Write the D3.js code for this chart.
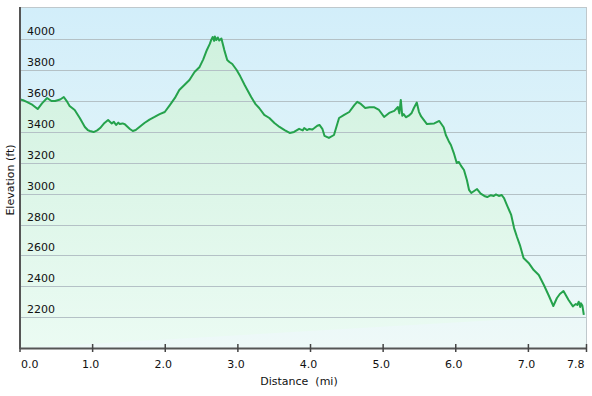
<!DOCTYPE html>
<html><head><meta charset="utf-8">
<script src="https://cdn.jsdelivr.net/npm/d3@7"></script>
<style>html,body{margin:0;padding:0;background:#fff;}svg{display:block;}</style>
</head><body><svg id="c" width="592" height="396"></svg>
<script>
const distance = [0.00,0.05,0.10,0.18,0.25,0.31,0.38,0.44,0.49,0.56,0.61,0.65,0.69,0.76,0.83,0.90,0.94,0.97,1.02,1.07,1.11,1.17,1.22,1.27,1.30,1.33,1.36,1.38,1.42,1.45,1.52,1.56,1.60,1.66,1.72,1.79,1.86,1.93,2.00,2.07,2.14,2.20,2.27,2.34,2.41,2.48,2.53,2.58,2.62,2.64,2.66,2.68,2.69,2.71,2.73,2.75,2.78,2.82,2.86,2.89,2.93,2.99,3.04,3.10,3.19,3.25,3.30,3.37,3.44,3.51,3.58,3.65,3.72,3.78,3.85,3.90,3.92,3.96,3.99,4.03,4.06,4.10,4.13,4.17,4.20,4.26,4.33,4.40,4.47,4.54,4.61,4.65,4.70,4.76,4.82,4.88,4.95,5.02,5.09,5.16,5.21,5.23,5.25,5.27,5.29,5.32,5.36,5.40,5.43,5.47,5.50,5.53,5.61,5.71,5.78,5.84,5.87,5.91,5.94,5.98,6.02,6.05,6.08,6.12,6.16,6.19,6.22,6.30,6.35,6.40,6.44,6.49,6.53,6.56,6.60,6.64,6.67,6.71,6.77,6.81,6.85,6.89,6.94,7.01,7.08,7.15,7.22,7.29,7.35,7.40,7.44,7.49,7.56,7.62,7.66,7.68,7.70,7.72,7.73,7.75,7.77,7.79,7.80];
const elevation = [3611,3605,3595,3575,3548,3585,3620,3600,3600,3610,3626,3600,3568,3542,3490,3432,3412,3406,3399,3410,3425,3458,3477,3455,3465,3445,3460,3451,3455,3450,3419,3406,3412,3435,3458,3480,3497,3515,3529,3574,3620,3672,3704,3736,3788,3821,3870,3931,3970,3996,4015,3990,4018,3995,4012,3992,4005,3930,3866,3853,3840,3801,3760,3704,3626,3580,3555,3510,3490,3458,3432,3412,3393,3400,3420,3410,3425,3412,3419,3415,3425,3440,3445,3420,3374,3361,3380,3490,3510,3529,3574,3595,3581,3555,3560,3560,3542,3497,3523,3536,3561,3520,3607,3505,3515,3495,3505,3523,3555,3590,3530,3500,3451,3455,3471,3430,3380,3340,3315,3263,3199,3205,3180,3153,3088,3024,3004,3030,3000,2985,2978,2990,2985,2995,2985,2991,2972,2927,2862,2777,2719,2667,2583,2551,2505,2473,2408,2337,2272,2324,2350,2369,2311,2270,2285,2279,2300,2265,2290,2275,2214];
const xTicks = [0,1,2,3,4,5,6,7,7.8];
const yTicks = [2200,2400,2600,2800,3000,3200,3400,3600,3800,4000];
const xLabel = "Distance  (mi)";
const yLabel = "Elevation (ft)";

const svg = d3.select("#c");
const L = 20, R = 586, T = 7, B = 348;
const FONT = "Verdana, 'DejaVu Sans', sans-serif";
const x = d3.scaleLinear().domain([0, 7.8]).range([19.5, 586]);
const y = d3.scaleLinear().domain([2000, 4000]).range([348, 39.3]);
const defs = svg.append("defs");
const bg = defs.append("linearGradient").attr("id","bg").attr("gradientUnits","userSpaceOnUse")
  .attr("x1",0).attr("y1",T).attr("x2",0).attr("y2",B);
bg.append("stop").attr("offset","0%").attr("stop-color","#d2eefa");
bg.append("stop").attr("offset","100%").attr("stop-color","#eef9f8");
const ag = defs.append("linearGradient").attr("id","ag").attr("gradientUnits","userSpaceOnUse")
  .attr("x1",0).attr("y1",T).attr("x2",0).attr("y2",B);
ag.append("stop").attr("offset","0%").attr("stop-color","#cdf0dc");
ag.append("stop").attr("offset","100%").attr("stop-color","#ebfbf3");

svg.append("rect").attr("x",L).attr("y",T).attr("width",R-L).attr("height",B-T).attr("fill","url(#bg)");
const data = distance.map((d,i)=>({d, e: elevation[i]}));
const base = y.domain()[0];
const areaData = [{d: distance[0], e: base}, ...data, {d: distance[distance.length-1], e: base}];
svg.append("path").attr("fill","url(#ag)")
  .attr("d", d3.line().x(p=>x(p.d)).y(p=>y(p.e))(areaData) + "Z");

// gridlines
svg.append("g").selectAll("line").data(yTicks).join("line")
  .attr("x1",L).attr("x2",R).attr("y1",d=>Math.round(y(d))+0.5).attr("y2",d=>Math.round(y(d))+0.5)
  .attr("stroke","#b4c1c6").attr("stroke-width",1.2);

// borders
svg.append("line").attr("x1",L).attr("x2",R).attr("y1",T+0.5).attr("y2",T+0.5).attr("stroke","#bfc8cc");
svg.append("line").attr("x1",R+0.5).attr("x2",R+0.5).attr("y1",T).attr("y2",B).attr("stroke","#bfc8cc");

svg.append("path").attr("fill","none").attr("stroke","#25a24c").attr("stroke-width",2)
  .attr("stroke-linejoin","round")
  .attr("d", d3.line().x(p=>x(p.d)).y(p=>y(p.e))(data));

// y tick labels
svg.append("g").selectAll("text").data(yTicks).join("text")
  .attr("x",27).attr("y",d=>y(d)-4).text(d=>d)
  .attr("font-family",FONT).attr("font-size",11).attr("fill","#111");

// axes
const xAxis = d3.axisBottom(x).tickValues(xTicks).tickFormat(d3.format(".1f")).tickSize(5).tickPadding(5);
const gx = svg.append("g").attr("transform",`translate(0,${B})`).call(xAxis);
gx.select(".domain").attr("stroke","#555").attr("stroke-width",2).attr("d",`M${L},0.5H${R+1}`);
gx.selectAll(".tick line").attr("stroke","#444").attr("stroke-width",1.5).attr("y1",-4).attr("y2",4);
const nT = xTicks.length;
gx.selectAll(".tick text").attr("font-family",FONT).attr("font-size",11).attr("fill","#111").attr("dy","0.9em")
  .attr("text-anchor",(d,i)=> i===0 ? "start" : (i===nT-1 ? "end" : "middle"))
  .attr("x",(d,i)=> i===0 ? 1 : -2);
svg.append("line").attr("x1",L).attr("x2",L).attr("y1",T).attr("y2",B+1).attr("stroke","#555").attr("stroke-width",2);

svg.append("text").attr("x",299).attr("y",385).attr("text-anchor","middle").text(xLabel)
  .attr("font-family",FONT).attr("font-size",11).attr("fill","#111").style("white-space","pre");
svg.append("text").attr("transform","translate(14,180) rotate(-90)").attr("text-anchor","middle").text(yLabel)
  .attr("font-family",FONT).attr("font-size",11).attr("fill","#111");
</script></body></html>
